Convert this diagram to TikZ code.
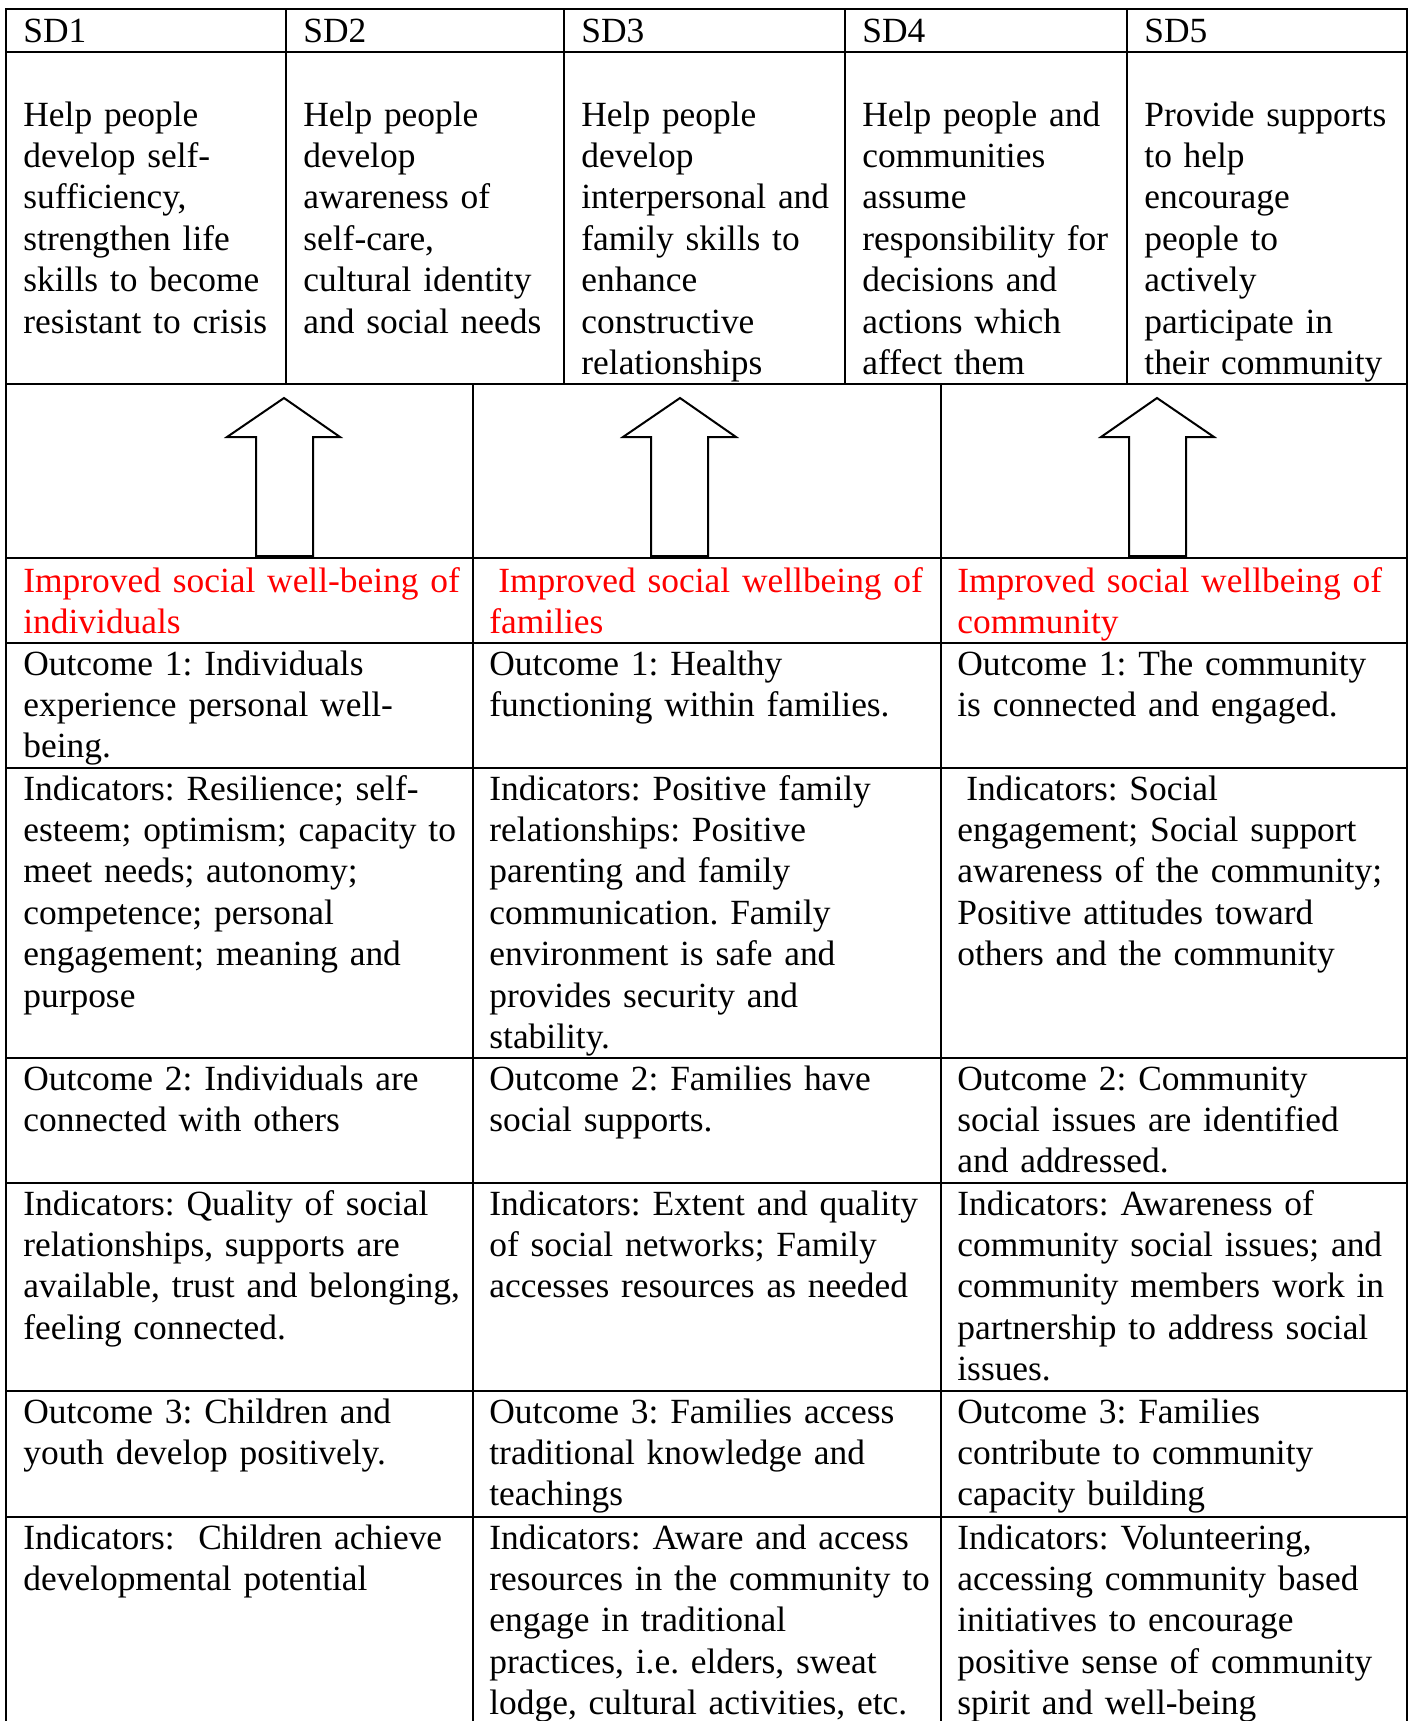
\documentclass[tikz,border=0pt]{standalone}
\usepackage{fontspec}
\setmainfont{Liberation Serif}
\begin{document}
\frenchspacing
\begin{tikzpicture}[x=0.5pt,y=-0.5pt,
  grid/.style={line width=1pt,line cap=rect},
  cell/.style={anchor=base west,inner sep=0pt,text width=230pt,align=left,font=\fontsize{17.7}{20.7}\selectfont\frenchspacing},
  redcell/.style={cell,text=red},
  blockarrow/.style={draw,line width=1pt,fill=white,line join=miter}]
\useasboundingbox (0,0) rectangle (1410,1721);
\fill[white] (0,0) rectangle (1410,1721);
% grid
\draw[grid] (6,1721) -- (6,9) -- (1407,9) -- (1407,1721);
\foreach \y in {52,383.5,558,643,768,1058,1183,1391,1517}
  \draw[grid] (6,\y) -- (1407,\y);
\foreach \x in {286,564,845,1127}
  \draw[grid] (\x,9) -- (\x,383.5);
\foreach \x in {473,941}
  \draw[grid] (\x,383.5) -- (\x,1721);
% arrows
\draw[blockarrow] (256,556) -- (256,437) -- (227,437) -- (284,398) -- (340,437) -- (313,437) -- (313,556) -- cycle;
\draw[blockarrow] (651,556) -- (651,437) -- (623,437) -- (680,398) -- (736,437) -- (708,437) -- (708,556) -- cycle;
\draw[blockarrow] (1129,556) -- (1129,437) -- (1101,437) -- (1157,398) -- (1214,437) -- (1186,437) -- (1186,556) -- cycle;
% header
\node[cell] (h1) at (23,42) {SD1};
\node[cell] (h2) at (303,42) {SD2};
\node[cell] (h3) at (581,42) {SD3};
\node[cell] (h4) at (862,42) {SD4};
\node[cell] (h5) at (1144,42) {SD5};
% SD texts
\node[cell] (sd1) at (23,126) {Help people\\develop self-\\sufficiency,\\strengthen life\\skills to become\\resistant to crisis};
\node[cell] (sd2) at (303,126) {Help people\\develop\\awareness of\\self-care,\\cultural identity\\and social needs};
\node[cell] (sd3) at (581,126) {Help people\\develop\\interpersonal and\\family skills to\\enhance\\constructive\\relationships};
\node[cell] (sd4) at (862,126) {Help people and\\communities\\assume\\responsibility for\\decisions and\\actions which\\affect them};
\node[cell] (sd5) at (1144,126) {Provide supports\\to help\\encourage\\people to\\actively\\participate in\\their community};
% red row
\node[redcell] (r1) at (23,592) {Improved social well-being of\\individuals};
\node[redcell] (r2) at (489,592) {\hspace*{0.25em}Improved social wellbeing of\\families};
\node[redcell] (r3) at (957,592) {Improved social wellbeing of\\community};
% outcome 1
\node[cell] (o11) at (23,675) {Outcome 1: Individuals\\experience personal well-\\being.};
\node[cell] (o12) at (489,675) {Outcome 1: Healthy\\functioning within families.};
\node[cell] (o13) at (957,675) {Outcome 1: The community\\is connected and engaged.};
% indicators 1
\node[cell] (i11) at (23,800) {Indicators: Resilience; self-\\esteem; optimism; capacity to\\meet needs; autonomy;\\competence; personal\\engagement; meaning and\\purpose};
\node[cell] (i12) at (489,800) {Indicators: Positive family\\relationships: Positive\\parenting and family\\communication. Family\\environment is safe and\\provides security and\\stability.};
\node[cell] (i13) at (957,800) {\hspace*{0.25em}Indicators: Social\\engagement; Social support\\awareness of the community;\\Positive attitudes toward\\others and the community};
% outcome 2
\node[cell] (o21) at (23,1090) {Outcome 2: Individuals are\\connected with others};
\node[cell] (o22) at (489,1090) {Outcome 2: Families have\\social supports.};
\node[cell] (o23) at (957,1090) {Outcome 2: Community\\social issues are identified\\and addressed.};
% indicators 2
\node[cell] (i21) at (23,1215) {Indicators: Quality of social\\relationships, supports are\\available, trust and belonging,\\feeling connected.};
\node[cell] (i22) at (489,1215) {Indicators: Extent and quality\\of social networks; Family\\accesses resources as needed};
\node[cell] (i23) at (957,1215) {Indicators: Awareness of\\community social issues; and\\community members work in\\partnership to address social\\issues.};
% outcome 3
\node[cell] (o31) at (23,1423) {Outcome 3: Children and\\youth develop positively.};
\node[cell] (o32) at (489,1423) {Outcome 3: Families access\\traditional knowledge and\\teachings};
\node[cell] (o33) at (957,1423) {Outcome 3: Families\\contribute to community\\capacity building};
% indicators 3
\node[cell] (i31) at (23,1549) {Indicators:\ \ Children achieve\\developmental potential};
\node[cell] (i32) at (489,1549) {Indicators: Aware and access\\resources in the community to\\engage in traditional\\practices, i.e. elders, sweat\\lodge, cultural activities, etc.};
\node[cell] (i33) at (957,1549) {Indicators: Volunteering,\\accessing community based\\initiatives to encourage\\positive sense of community\\spirit and well-being};
\end{tikzpicture}
\end{document}
